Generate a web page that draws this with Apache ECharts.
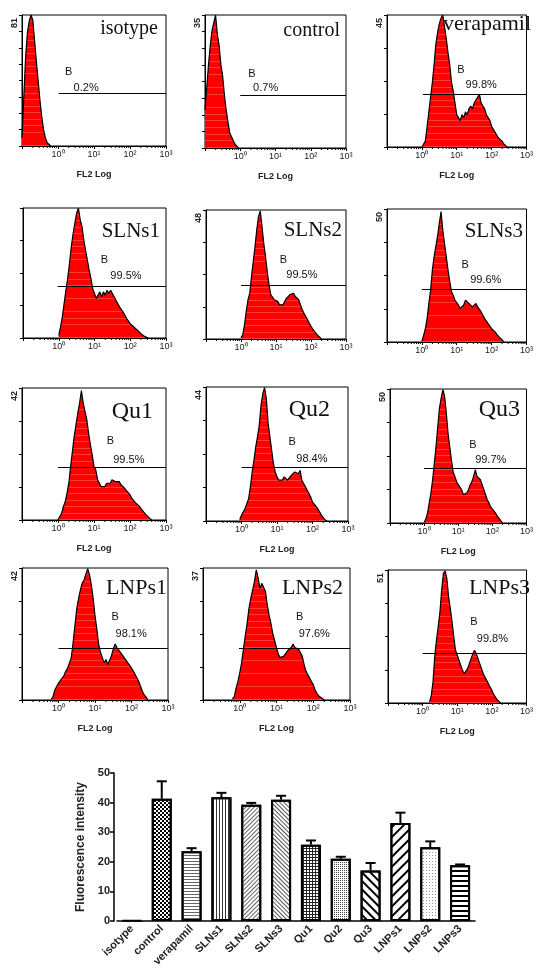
<!DOCTYPE html>
<html><head><meta charset="utf-8">
<script src="https://cdn.jsdelivr.net/npm/echarts@6/dist/echarts.min.js"></script>
<style>html,body{margin:0;padding:0;background:#fff}#c{width:536px;height:970px}</style>
</head><body><div id="c"></div>
<script>
// ---------- histogram panels data ----------
const panelNames = ['isotype','control','verapamil','SLNs1','SLNs2','SLNs3','Qu1','Qu2','Qu3','LNPs1','LNPs2','LNPs3'];
const panelYMax = [81,35,45,40,48,50,42,44,50,42,37,51];
const panelYLabel = ['81','35','45','','48','50','42','44','50','42','37','51'];
const panelYSplits = [8,8,4,4,4,4,4,4,4,4,4,4];
const panelPercent = ['0.2%','0.7%','99.8%','99.5%','99.5%','99.6%','99.5%','98.4%','99.7%','98.1%','97.6%','99.8%'];
const gateY = [32.6,14,18,15.8,19.9,20,16.8,17.7,20.5,16.4,14.4,19.2];
const gateX0 = [0.02,0,0.03,-0.03,0,0,0,0,0,0,-0.02,0];
const gateLabelBX = [0.18,0.21,1.0,1.16,1.09,1.12,1.34,1.31,1.31,1.44,1.52,1.36];
const gateLabelBY = [46,19.6,26.2,24,29.4,29,25,26,29.2,26.4,23.3,31.1];
const gatePctX = [0.42,0.35,1.24,1.43,1.28,1.37,1.52,1.53,1.48,1.55,1.59,1.55];
const gatePctY = [36,15.7,21,19,23.9,23.3,19.1,20.5,23.4,21,18.5,24.7];
const binStep = 0.05;   // log10 bin width
const binStart = [-1.0,-1.0,0.0,0.0,0.0,0.0,0.0,-0.05,0.0,-0.2,-0.2,0.2];
const countsIsotype = [5,30,55,70,77,81,78,65,52,40,28,18,10,5,2,1,0];
const countsControl = [10,16,22,27,31,33,35,30,27,22,19,14,10,7,4,3,2,1,0.5,0];
const countsVerapamil = [0,1,2,7,12,17,22,28,35,39,42,44,45,41,37,32,28,22,19,15,11,10,9,11,10,12,11,13,14,13,15,16,16,18,15,14,13,11,10,9,7,6,5,4,3,2.5,2,1,0.5,0];
const countsSLNs1 = [0.8,3.4,6.5,10.6,14.7,18.3,23,28,32,35.3,38.4,40,36.4,34.3,30.2,27,24,21,18.3,15.2,13.7,12.2,13.2,14.2,12.7,14.2,13.2,14.7,13.7,14.7,13.7,12.7,11.6,10.6,9.6,9.1,8,7.5,6,5.5,4.4,4.9,3.4,2.9,2.4,1.9,1.3,1,0.5,0.3,0];
const countsSLNs2 = [0.5,1.6,5.3,10.3,14.6,17,23.3,28.8,34.4,40.6,45.5,47.7,41.8,35.6,30.7,25.1,20.2,16.5,15.8,14.6,15.2,14,12.7,12.1,12.7,14,15.2,15.8,16.5,15.8,17,15.8,15.2,14.6,12.7,10.9,9.6,8.4,7.2,5.9,4.7,3.7,2.8,2,1.2,0.6,0];
const countsSLNs3 = [0.3,2.5,5,8.8,14.5,19.5,27,32,36,39.7,44.7,49,42,37,32,27,22.7,18.9,17.6,15.7,15.1,13.9,12.6,12,13.9,15.7,15.1,14.5,13.9,13.2,13.9,14.5,13.2,12.6,11.3,10,8.8,7.9,6.9,6.3,5,4.4,3.8,2.9,2.1,1.6,0.8,0];
const countsQu1 = [0,1.1,2.1,4.3,5.8,8.5,11.7,17,21.8,26.6,30.3,34,37.2,41.2,37.2,34.5,31.9,27.6,23.9,20.7,17,15.9,12.8,11.7,10.6,11.2,10.6,11.7,12.2,11.7,12.8,13.3,12.2,11.7,12.2,11.2,10.6,10.1,9.6,8.7,8,6.9,6.4,5.5,5.1,4.5,3.7,3,2.3,1.6,1.1,0.5,0];
const countsQu2 = [0.5,1.9,3,4,5.7,7.3,11.2,16.1,19.9,24.3,27.6,31.4,38,41.8,43.8,40.2,32,27.6,23.2,18.8,16.1,14.5,13.4,13.9,13.4,14.5,13.9,13.4,13.9,15,14.5,16.1,16.6,15.5,16.6,13.4,12.3,11.2,10.1,9,7.9,6.2,5.5,4.8,4,3,1.9,1.3,0.4,0];
const countsQu3 = [0.2,1.5,3.7,7.5,11.2,16.2,22.4,28.6,36,42.9,46.7,49.8,47.3,41,33.6,28.6,23.6,19,17.4,15.5,14.3,13.7,12.4,10.6,10,11.2,12.4,14.3,15.5,17.4,19.9,17.4,18,16.2,14.3,12.4,10.6,8.7,7.5,6,5.2,4.4,3.5,2.5,1.6,0.9,0];
const countsLNPs1 = [0.2,1.1,3.2,4.3,5.4,6.2,6.7,7.8,9.2,10.2,11.8,13.5,18.3,23.7,29.1,32.3,35,37.2,38.2,38.8,41.8,39.8,36.6,32.3,26.9,22.6,17.8,15.1,13.5,11.8,12.9,11.3,11.8,14,16.2,17.8,16.7,17.2,15.1,14.5,13.5,12.9,11.8,11.3,10.2,9.2,8.1,7,5.9,4.3,2.7,1.6,0.9,0];
const countsLNPs2 = [0.3,0.9,3.3,5.2,7.6,10.4,14.2,18,21.4,25.6,28.5,30.8,33.2,36.5,34.2,31.3,32.7,33.2,30.4,26.6,23.7,21.4,18.5,16.6,14.7,12.8,11.9,11.4,12.3,12.8,13.8,14.2,14.7,15.7,14.7,15.2,14.2,13.8,12.3,10,8.1,7.1,6.2,5.2,4.3,2.8,1.9,1.1,0.8,0.4,0];
const countsLNPs3 = [0.4,2.9,8.1,17.7,24.1,29.2,34.9,43.3,49.7,50.7,47.7,40.7,36.2,31.1,25.3,20.2,18.3,16.4,14.5,12.5,11.3,11.9,13.2,15.1,17,18.9,20.2,18.9,17,15.1,13.2,11.3,10,8.7,7.4,6.1,4.9,3.3,2.3,1.3,0.6,0];
const panelCounts = [countsIsotype,countsControl,countsVerapamil,countsSLNs1,countsSLNs2,countsSLNs3,countsQu1,countsQu2,countsQu3,countsLNPs1,countsLNPs2,countsLNPs3];
const xTickLabels = ['', '10⁰', '10¹', '10²', '10³'];

// ---------- bar chart data ----------
const barCategories = ['isotype','control','verapamil','SLNs1','SLNs2','SLNs3','Qu1','Qu2','Qu3','LNPs1','LNPs2','LNPs3'];
const barMeans = [0.2,41.3,23.6,41.8,39.3,41.0,25.8,21.0,17.1,33.1,24.9,18.8];
const barErrors = [0,5.9,1.0,1.5,0.6,1.3,1.4,0.7,2.5,3.5,2.0,0.3];

// ---------- layout (pixels) ----------
const panelBox = [ // left, top, width, height
  [22,15,144,131],[205,15,141,133],[387,15,140,132],
  [23,208,143,130],[206,210,140,129],[387,209,140,133],
  [22,388,144,132],[206,387,142,134],[390,389,142,134],
  [22,568,146,132],[203,568,147,132],[388,570,145,133]
];
const titleRight = [158,340,531,160,342,523,153,330,520,167,343,530];
const titleBase = [37,39,33,240,239,240,422,420,420,597,597,597];
const titleSize = [20,20,22,21,21,21,24,24,24,22,22,22];
const showFL2 = [1,1,1,0,0,0,1,1,1,1,1,1];

const minorTicks = [];
for (let n = -1; n < 3; n++) for (let k = 2; k <= 9; k++) minorTicks.push([n + Math.log10(k), 0]);

// faint horizontal banding inside the red fill (style only)
function stripedRed() {
  const stops = [];
  const n = 20;
  for (let s = 0; s < n; s++) {
    const a = s / n, b = (s + 0.86) / n, c = (s + 1) / n;
    stops.push({offset: a, color: '#ff0000'}, {offset: b, color: '#ff0000'},
               {offset: b, color: '#ff3a3a'}, {offset: c, color: '#ff3a3a'});
  }
  return new echarts.graphic.LinearGradient(0, 0, 0, 1, stops);
}

const SANS = 'Liberation Sans, Arial, sans-serif';
const SERIF = 'Liberation Serif, Times New Roman, serif';

const grids = [], xAxes = [], yAxes = [], series = [], titles = [];
panelNames.forEach((name, i) => {
  const b = panelBox[i];
  grids.push({left: b[0], top: b[1], width: b[2], height: b[3], show: true, borderColor: '#000', borderWidth: 1, backgroundColor: 'transparent'});
  xAxes.push({
    gridIndex: i, type: 'value', min: -1, max: 3, interval: 1,
    axisLine: {show: true, onZero: false, lineStyle: {color: '#000', width: 1}},
    axisTick: {show: true, length: 3, lineStyle: {color: '#000'}},
    splitLine: {show: false},
    axisLabel: {fontSize: 9, color: '#222', fontFamily: SANS, margin: 4,
      formatter: v => xTickLabels[Math.round(v) + 1]},
    name: showFL2[i] ? 'FL2 Log' : '', nameLocation: 'middle', nameGap: 24,
    nameTextStyle: {fontSize: 9, color: '#222', fontFamily: SANS, fontWeight: 'bold'}
  });
  yAxes.push({
    gridIndex: i, type: 'value', min: 0, max: panelYMax[i], interval: panelYMax[i] / panelYSplits[i],
    axisLine: {show: true, onZero: false, lineStyle: {color: '#000', width: 1}},
    axisTick: {show: true, length: 3, lineStyle: {color: '#000'}},
    splitLine: {show: false},
    axisLabel: {fontSize: 9, color: '#222', fontFamily: SANS, fontWeight: 'bold', rotate: 90, margin: 3,
      align: 'right', verticalAlign: 'bottom', padding: [0, 3, 0, 0],
      formatter: v => (Math.abs(v - panelYMax[i]) < 1e-6 ? panelYLabel[i] : '')}
  });
  const data = panelCounts[i].map((c, k) => [binStart[i] + k * binStep, c]);
  series.push({
    type: 'line', xAxisIndex: i, yAxisIndex: i, data: data, symbol: 'none', silent: true,
    lineStyle: {color: '#000', width: 1.2},
    areaStyle: {color: stripedRed(), opacity: 1},
    markLine: {silent: true, symbol: ['none','none'], label: {show: false},
      lineStyle: {color: '#000', width: 1, type: 'solid'},
      data: [[{coord: [gateX0[i], gateY[i]]}, {coord: [3, gateY[i]]}]]},
    markPoint: {silent: true, symbol: 'rect', symbolSize: 1, itemStyle: {color: 'transparent'},
      label: {show: true, position: 'right', distance: 0, formatter: '{b}', color: '#111', fontSize: 11, fontFamily: SANS},
      data: [{coord: [gateLabelBX[i], gateLabelBY[i]], name: 'B'}, {coord: [gatePctX[i], gatePctY[i]], name: panelPercent[i]}]}
  });
  series.push({
    type: 'custom', xAxisIndex: i, yAxisIndex: i, data: minorTicks, silent: true, clip: false,
    encode: {x: 0, y: 1},
    renderItem: (params, api) => {
      const p = api.coord([api.value(0), 0]);
      return {type: 'line', shape: {x1: p[0], y1: p[1], x2: p[0], y2: p[1] + 2}, style: {stroke: '#000', lineWidth: 1}};
    }
  });
  titles.push({text: name, left: titleRight[i], top: titleBase[i] - Math.round(titleSize[i] * 0.9), textAlign: 'right', padding: 0,
    textStyle: {fontFamily: SERIF, fontSize: titleSize[i], fontWeight: 'normal', color: '#111'}});
});

// ---------- bar chart ----------
const BI = panelNames.length;
grids.push({left: 117, top: 773, width: 358, height: 148});
xAxes.push({gridIndex: BI, type: 'category', data: barCategories,
  axisLine: {show: true, lineStyle: {color: '#000', width: 1.5}},
  axisTick: {show: false},
  axisLabel: {interval: 0, rotate: 45, fontSize: 11, fontWeight: 'bold', color: '#222', fontFamily: SANS, margin: 6}
});
yAxes.push({gridIndex: BI, type: 'value', min: 0, max: 50, interval: 10, offset: 3,
  axisLine: {show: true, lineStyle: {color: '#000', width: 1.5}},
  axisTick: {show: true, length: 4, lineStyle: {color: '#000', width: 1.5}},
  splitLine: {show: false},
  axisLabel: {fontSize: 11, fontWeight: 'bold', color: '#222', fontFamily: SANS, margin: 4},
  name: 'Fluorescence intensity', nameLocation: 'middle', nameGap: 22,
  nameTextStyle: {fontSize: 12, fontWeight: 'bold', color: '#222', fontFamily: SANS}
});
const D = o => Object.assign({symbol: 'rect', symbolSize: 1, color: '#000', backgroundColor: null}, o);
const barDecals = [
  null,
  D({dashArrayX: [[2,2],[0,2,2,0]], dashArrayY: [2,0]}),
  D({dashArrayX: [1,0], dashArrayY: [1,2], color: '#666'}),
  D({dashArrayX: [1,2], dashArrayY: [1,0], color: '#333'}),
  D({dashArrayX: [1,0], dashArrayY: [1,1.5], rotation: -Math.PI/4, color: '#666'}),
  D({dashArrayX: [1,0], dashArrayY: [1,1.5], rotation: Math.PI/4, color: '#555'}),
  D({dashArrayX: [[3,0],[1,2],[1,2]], dashArrayY: [1,0], color: '#222'}),
  D({dashArrayX: [1,1], dashArrayY: [1,1], color: '#444'}),
  D({dashArrayX: [1,0], dashArrayY: [1.2,4], rotation: Math.PI/4, color: '#000'}),
  D({dashArrayX: [1,0], dashArrayY: [2,5], rotation: -Math.PI/4, color: '#000'}),
  D({dashArrayX: [1,1.5], dashArrayY: [1,1.5], color: '#999'}),
  D({dashArrayX: [1,0], dashArrayY: [2,2.5], color: '#000'})
];
series.push({
  type: 'bar', xAxisIndex: BI, yAxisIndex: BI, barWidth: 20, silent: true,
  data: barMeans.map((v, k) => ({value: v, itemStyle: {color: '#fff', borderColor: '#000', borderWidth: 2, decal: barDecals[k] || undefined}}))
});
series.push({
  type: 'custom', xAxisIndex: BI, yAxisIndex: BI, silent: true, z: 5,
  data: barMeans.map((v, k) => [k, v, barErrors[k]]),
  encode: {x: 0, y: 1},
  renderItem: (params, api) => {
    const e = api.value(2);
    if (!e) return null;
    const p0 = api.coord([api.value(0), api.value(1)]);
    const p1 = api.coord([api.value(0), api.value(1) + e]);
    return {type: 'group', children: [
      {type: 'line', shape: {x1: p0[0], y1: p0[1], x2: p1[0], y2: p1[1]}, style: {stroke: '#000', lineWidth: 2}},
      {type: 'line', shape: {x1: p1[0] - 5, y1: p1[1], x2: p1[0] + 5, y2: p1[1]}, style: {stroke: '#000', lineWidth: 2}}
    ]};
  }
});

const chart = echarts.init(document.getElementById('c'), null, {renderer: 'canvas'});
chart.setOption({backgroundColor: '#fff', animation: false, title: titles, grid: grids, xAxis: xAxes, yAxis: yAxes, series: series});
</script></body></html>
